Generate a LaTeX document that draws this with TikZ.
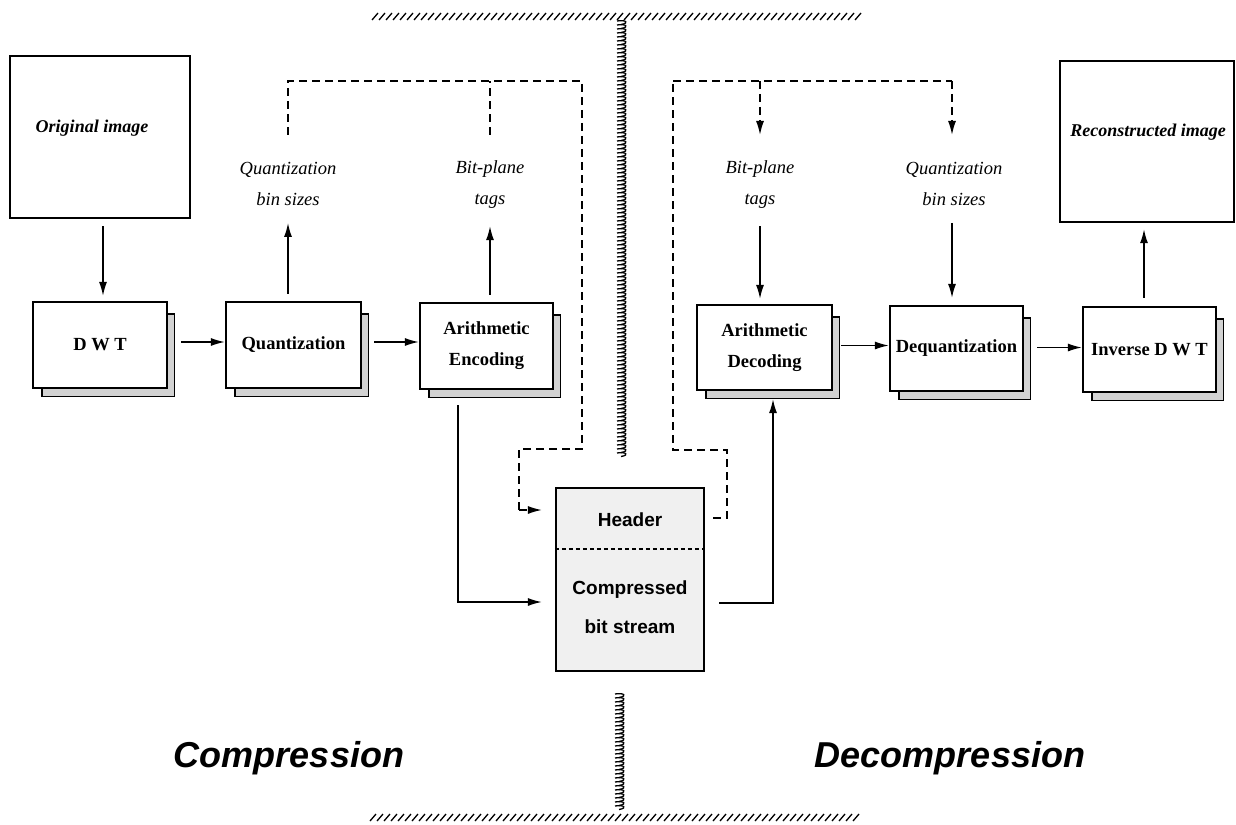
\documentclass[tikz,border=0pt]{standalone}
\usepackage{fontspec}
\setmainfont{Liberation Serif}
\setsansfont{Liberation Sans}
\usetikzlibrary{arrows.meta,calc,backgrounds}

\begin{document}
\begin{tikzpicture}[x=1pt,y=-1pt,
  box/.style={draw,line width=2.1pt,fill=white,inner sep=0pt,align=center,
    font=\fontsize{18.5}{31}\selectfont\bfseries},
  frame/.style={draw,line width=2.3pt,fill=white,inner sep=0pt},
  lbl/.style={align=center,inner sep=0pt,font=\fontsize{18.5}{31}\selectfont\itshape},
  ttl/.style={inner sep=0pt,font=\fontsize{18}{22}\selectfont\bfseries\itshape},
  big/.style={inner sep=0pt,font=\fontsize{36}{40}\selectfont\sffamily\bfseries\itshape},
  tip/.tip={Latex[length=14pt,width=8pt]},
  arr/.style={line width=1.6pt,-tip},
  dsh/.style={line width=1.6pt,dash pattern=on 8pt off 5pt},
  shade/.style={fill=gray!35,draw=black,line width=1.1pt},
  hatch/.style={line width=1.3pt}]
\useasboundingbox (0,0) rectangle (1236,824);

% ---------- partition marks ----------
\foreach \x in {372,379,...,856} \draw[hatch] (\x,20) -- (\x+6,13);
\foreach \x in {370,377,...,856} \draw[hatch] (\x,821) -- (\x+6,814);
\foreach \y in {21,25,...,455} \draw[hatch] (617,\y) .. controls (626,\y-1.5) and (630,\y+2) .. (621,\y+3.5);
\foreach \y in {694,698,...,808} \draw[hatch] (615,\y) .. controls (624,\y-1.5) and (628,\y+2) .. (619,\y+3.5);

% ---------- image frames ----------
\node[frame,minimum width=180pt,minimum height=162pt] (orig) at (100,137) {};
\node[ttl] (origt) at (92,128) {Original image};
\node[frame,minimum width=174pt,minimum height=161pt] (recon) at (1147,141.5) {};
\node[ttl] (recont) at (1148,132) {Reconstructed image};

% ---------- processing blocks ----------
\node[box,minimum width=134pt,minimum height=86pt] (dwt) at (100,345) {D W T};
\node[box,minimum width=135pt,minimum height=86pt] (quant) at (293.5,345) {Quantization};
\node[box,minimum width=133pt,minimum height=86pt] (aenc) at (486.5,346) {Arithmetic\\Encoding};
\node[box,minimum width=135pt,minimum height=85pt] (adec) at (764.5,347.5) {Arithmetic\\Decoding};
\node[box,minimum width=133pt,minimum height=85pt] (deq) at (956.5,348.5) {Dequantization};
\node[box,minimum width=133pt,minimum height=85pt] (idwt) at (1149.5,349.5) {Inverse D W T};

\begin{scope}[on background layer]
  \foreach \n in {dwt,quant,aenc,adec,deq,idwt}
    \draw[shade] ($(\n.north west)+(10,13)$) rectangle ($(\n.south east)+(6,7)$);
\end{scope}

% ---------- side information labels ----------
\node[lbl] (qL) at (288,184) {Quantization\\bin sizes};
\node[lbl] (bL) at (490,185) {Bit-plane\\tags};
\node[lbl] (bR) at (760,185) {Bit-plane\\tags};
\node[lbl] (qR) at (954,184) {Quantization\\bin sizes};

% ---------- bit stream ----------
\node[draw,line width=2.1pt,fill=gray!12,minimum width=148pt,minimum height=183pt,inner sep=0pt] (bs) at (630,579.5) {};
\draw[line width=1.6pt,dash pattern=on 4pt off 3pt] (bs.west |- 0,549) -- (bs.east |- 0,549);
\node[inner sep=0pt,font=\fontsize{19}{39}\selectfont\sffamily\bfseries] (hdr) at (630,520) {Header};
\node[inner sep=0pt,align=center,font=\fontsize{19}{39}\selectfont\sffamily\bfseries] (cbs) at (630,607) {Compressed\\bit stream};

% ---------- compression path ----------
\draw[arr,shorten <=7pt,shorten >=5pt] ([xshift=3pt]orig.south) -- ([xshift=3pt]dwt.north);
\draw[arr,shorten <=13pt] ([yshift=3pt]dwt.east) -- ([yshift=3pt]dwt.east -| quant.west);
\draw[arr,shorten <=12pt] ([yshift=3pt]quant.east) -- ([yshift=3pt]quant.east -| aenc.west);
\draw[arr,shorten <=7pt,shorten >=17pt] ([xshift=-5.5pt]quant.north) -- ([xshift=-5.5pt]quant.north |- qL.south);
\draw[arr,shorten <=7pt,shorten >=17pt] ([xshift=3.5pt]aenc.north) -- ([xshift=3.5pt]aenc.north |- bL.south);
\draw[arr,shorten <=15pt,shorten >=13pt] ([xshift=-28.5pt]aenc.south) |- (bs.west |- 0,602);

\coordinate (cl) at (582,81);
\draw[dsh] (288,135) |- (cl) -- (582,449) -| (519,510);
\draw[dsh] (490,135) -- (490,81);
\draw[dsh,-tip,shorten >=13pt] (519,510) -- (bs.west |- 0,510);

% ---------- decompression path ----------
\draw[arr,shorten <=14pt,shorten >=8pt] (bs.east |- 0,603) -| ([xshift=8.5pt]adec.south);
\draw[dsh] ([xshift=8pt]bs.east |- 0,518) -- (727,518) |- (673,450) -- (673,81);
\coordinate (cr) at (952,81);
\draw[dsh] (673,81) -- (cr);
\draw[dsh,-tip] (cr) -- (952,135);
\draw[dsh,-tip] (760,81) -- (760,135);
\draw[arr,shorten <=17pt,shorten >=5pt] (bR.south) -- (bR.south |- adec.north);
\draw[arr,shorten <=17pt,shorten >=7pt] ([xshift=-2pt]qR.south) -- ([xshift=-2pt]qR.south |- deq.north);
\draw[arr,shorten <=8pt] ([yshift=2pt]adec.east) -- ([yshift=2pt]adec.east -| deq.west);
\draw[arr,shorten <=13pt] ([yshift=1pt]deq.east) -- ([yshift=1pt]deq.east -| idwt.west);
\draw[arr,shorten <=8pt,shorten >=6pt] ([xshift=-5.5pt]idwt.north) -- ([xshift=-5.5pt]idwt.north |- recon.south);

% ---------- section titles ----------
\node[big] (ctitle) at (289,758) {Compression};
\node[big] (dtitle) at (950,758) {Decompression};
\end{tikzpicture}
\end{document}
